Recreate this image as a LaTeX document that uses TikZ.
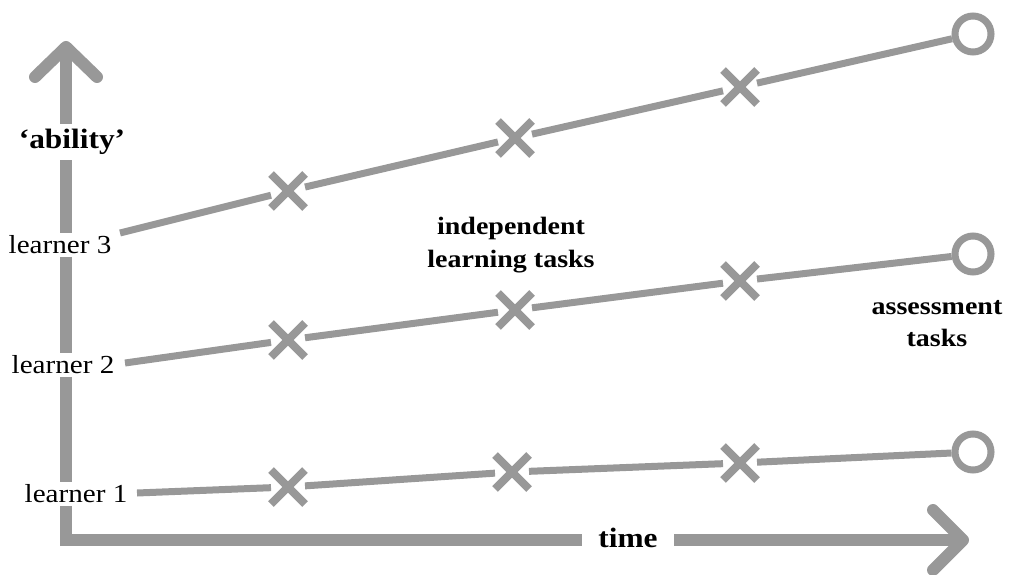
\documentclass[tikz,border=0pt]{standalone}
\usepackage{fontspec}
\setmainfont[FakeStretch=1.12]{Liberation Serif}
\usetikzlibrary{shapes.misc}
\definecolor{linegray}{RGB}{152,152,152}
\tikzset{
  axisline/.style={draw=linegray, line width=12pt},
  axishead/.style={draw=linegray, line width=12pt, line cap=round, line join=round},
  pathline/.style={draw=linegray, line width=7pt},
  tasknode/.style={cross out, draw=linegray, line width=8pt, minimum size=26pt, inner sep=0pt},
  assessnode/.style={circle, draw=linegray, line width=7pt, fill=white, minimum size=36pt, inner sep=0pt},
  learnerlabel/.style={fill=white, inner xsep=2pt, inner ysep=3pt, font=\fontsize{26}{28}\selectfont},
  boldlabel/.style={font=\fontsize{25}{33}\selectfont\bfseries, align=center, inner sep=0pt},
}
\begin{document}
\begin{tikzpicture}[x=1pt, y=-1pt]
\useasboundingbox (0,0) rectangle (1009,575);

% axes
\coordinate (top) at (66,47);
\coordinate (origin) at (66,540);
\coordinate (right) at (963,540);
\draw[axisline] (top) -- (origin) -- (right);
\draw[axishead] (35,77) -- (top) -- (97,77);
\draw[axishead] (right) ++(-30,-30) -- (right) -- ++(-30,30);

% axis labels
\node[fill=white, inner xsep=2pt, inner ysep=5pt, font=\fontsize{28}{30}\selectfont\bfseries] (ability) at (72,142) {‘ability’};
\node[fill=white, inner xsep=16pt, inner ysep=4pt, font=\fontsize{28}{30}\selectfont\bfseries] (time) at (628,538) {time};

% learners
\node[learnerlabel] (l3) at (60,245) {learner 3};
\node[learnerlabel] (l2) at (63,365) {learner 2};
\node[learnerlabel] (l1) at (76,494) {learner 1};

\coordinate (s3) at (120,233);
\coordinate (s2) at (125,363);
\coordinate (s1) at (137,493);

% learner 3
\node[tasknode] (a31) at (288,191) {};
\node[tasknode] (a32) at (515,138) {};
\node[tasknode] (a33) at (740,87) {};
\node[assessnode] (c3) at (973,34) {};
% learner 2
\node[tasknode] (a21) at (288,340) {};
\node[tasknode] (a22) at (515,310) {};
\node[tasknode] (a23) at (740,281) {};
\node[assessnode] (c2) at (973,254) {};
% learner 1
\node[tasknode] (a11) at (288,487) {};
\node[tasknode] (a12) at (512,472) {};
\node[tasknode] (a13) at (740,463) {};
\node[assessnode] (c1) at (973,452) {};

\draw[pathline] (s3) -- (a31) -- (a32) -- (a33) -- (c3);
\draw[pathline] (s2) -- (a21) -- (a22) -- (a23) -- (c2);
\draw[pathline] (s1) -- (a11) -- (a12) -- (a13) -- (c1);

% annotations
\node[boldlabel] (ilt) at (511,245) {independent\\learning tasks};
\node[boldlabel, font=\fontsize{25}{32}\selectfont\bfseries] (at) at (937,324) {assessment\\tasks};
\end{tikzpicture}
\end{document}
